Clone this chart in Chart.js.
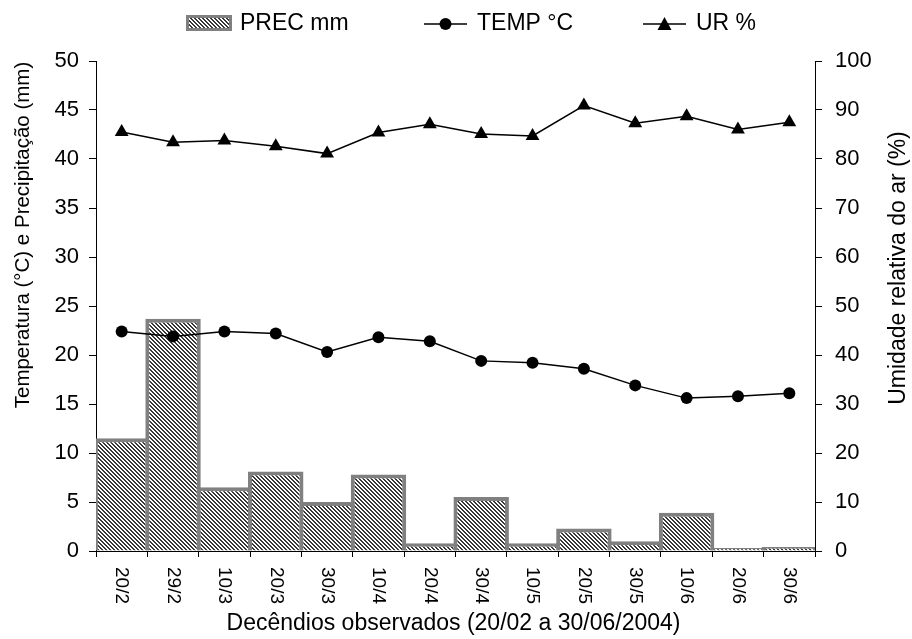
<!DOCTYPE html>
<html>
<head>
<meta charset="utf-8">
<script src="https://cdn.jsdelivr.net/npm/chart.js@4.4.1/dist/chart.umd.min.js"></script>
<style>
  html, body { margin: 0; padding: 0; background: #fff; }
  #wrap { width: 912px; height: 639px; position: relative; }
</style>
</head>
<body>
<div id="wrap"><canvas id="chart" width="912" height="639"></canvas></div>
<script>
'use strict';

// Decêndios (categories)
const decendios = ['20/2', '29/2', '10/3', '20/3', '30/3', '10/4', '20/4',
                   '30/4', '10/5', '20/5', '30/5', '10/6', '20/6', '30/6'];

// Precipitação (mm) – left axis
const precMm = [11.5, 23.7, 6.5, 8.1, 5.0, 7.8, 0.8, 5.5, 0.8, 2.3, 1.0, 3.9, 0.3, 0.4];

// Temperatura (°C) – left axis
const tempC = [22.4, 21.9, 22.4, 22.2, 20.3, 21.8, 21.4, 19.4, 19.2, 18.6, 16.9, 15.6, 15.8, 16.1];

// Umidade relativa (%) – right axis
const urPct = [85.5, 83.4, 83.8, 82.6, 81.1, 85.4, 87.1, 85.1, 84.7, 90.9, 87.3, 88.7, 86.0, 87.5];

const legendLabels = ['PREC mm', 'TEMP °C', 'UR %'];
const xTitle = 'Decêndios observados (20/02 a 30/06/2004)';
const yLeftTitle = 'Temperatura (°C) e Precipitação (mm)';
const yRightTitle = 'Umidade relativa do ar (%)';

const FONT = '"Liberation Sans", Arial, sans-serif';

// diagonal hatch used for the precipitation bars
function makeHatch(ctx) {
  const c = document.createElement('canvas');
  c.width = 4;
  c.height = 4;
  const p = c.getContext('2d');
  p.fillStyle = '#ffffff';
  p.fillRect(0, 0, 4, 4);
  p.fillStyle = '#383838';
  for (let i = 0; i < 4; i++) {
    p.fillRect(i, i, 1, 1);
    p.fillRect((i + 1) % 4, i, 1, 1);
  }
  return ctx.createPattern(c, 'repeat');
}

const canvas = document.getElementById('chart');
const ctx = canvas.getContext('2d');
const hatch = makeHatch(ctx);

// rotated x labels, axis titles and the legend (Excel style)
const extrasPlugin = {
  id: 'extras',
  afterDraw(chart) {
    const c = chart.ctx;
    const xs = chart.scales.x;
    c.save();
    c.fillStyle = '#000';

    // category labels, rotated clockwise
    c.font = '19px ' + FONT;
    c.textAlign = 'left';
    c.textBaseline = 'middle';
    decendios.forEach((lab, i) => {
      const px = xs.getPixelForValue(i);
      c.save();
      c.translate(px, xs.top + 16);
      c.rotate(Math.PI / 2);
      c.fillText(lab, 0, 0);
      c.restore();
    });

    // x title
    c.font = '23px ' + FONT;
    c.textAlign = 'center';
    c.fillText(xTitle, (chart.chartArea.left + chart.chartArea.right) / 2 - 2, 624);

    // y titles (both read bottom-to-top)
    c.save();
    c.font = '20.5px ' + FONT;
    c.translate(23, 235);
    c.rotate(-Math.PI / 2);
    c.fillText(yLeftTitle, 0, 0);
    c.restore();
    c.save();
    c.translate(899, 268);
    c.rotate(-Math.PI / 2);
    c.fillText(yRightTitle, 0, 0);
    c.restore();

    // legend
    c.textAlign = 'left';
    const ly = 24;
    c.fillStyle = hatch;
    c.fillRect(186, 15, 46, 16);
    c.strokeStyle = '#808080';
    c.lineWidth = 3;
    c.strokeRect(187.5, 16.5, 43, 13);
    c.fillStyle = '#000';
    c.fillText(legendLabels[0], 240, ly);

    c.strokeStyle = '#000';
    c.lineWidth = 1.5;
    c.beginPath();
    c.moveTo(424, ly); c.lineTo(467, ly);
    c.moveTo(643, ly); c.lineTo(686, ly);
    c.stroke();
    c.beginPath();
    c.arc(445.5, ly, 6, 0, Math.PI * 2);
    c.fill();
    c.beginPath();
    c.moveTo(664.5, ly - 7);
    c.lineTo(671.5, ly + 6);
    c.lineTo(657.5, ly + 6);
    c.closePath();
    c.fill();
    c.fillText(legendLabels[1], 477, ly);
    c.fillText(legendLabels[2], 696, ly);

    c.restore();
  }
};

new Chart(ctx, {
  type: 'bar',
  data: {
    labels: decendios,
    datasets: [
      {
        label: legendLabels[1],
        type: 'line',
        data: tempC,
        yAxisID: 'y',
        borderColor: '#000',
        backgroundColor: '#000',
        borderWidth: 1.5,
        pointStyle: 'circle',
        pointRadius: 6,
        pointBorderWidth: 0,
        tension: 0,
        order: 1
      },
      {
        label: legendLabels[2],
        type: 'line',
        data: urPct,
        yAxisID: 'y1',
        borderColor: '#000',
        backgroundColor: '#000',
        borderWidth: 1.5,
        pointStyle: 'triangle',
        pointRadius: 8,
        pointBorderWidth: 0,
        tension: 0,
        order: 1
      },
      {
        label: legendLabels[0],
        data: precMm,
        yAxisID: 'y',
        backgroundColor: hatch,
        borderColor: '#808080',
        borderWidth: 4,
        borderSkipped: 'start',
        barPercentage: 1.08,
        categoryPercentage: 1,
        order: 2
      }
    ]
  },
  options: {
    responsive: false,
    animation: false,
    layout: { padding: { top: 61, left: 0, right: 0, bottom: 0 } },
    plugins: {
      legend: { display: false },
      tooltip: { enabled: false },
      title: { display: false }
    },
    scales: {
      x: {
        offset: true,
        grid: {
          offset: true,
          drawOnChartArea: false,
          drawTicks: true,
          tickLength: 6,
          color: '#000'
        },
        border: { display: true, color: '#000', width: 1 },
        ticks: { display: false },
        afterFit(scale) { scale.height = 88; }
      },
      y: {
        position: 'left',
        min: 0,
        max: 50,
        ticks: {
          stepSize: 5,
          color: '#000',
          padding: 10,
          font: { family: FONT, size: 22 }
        },
        grid: { drawOnChartArea: false, tickLength: 7, color: '#000' },
        border: { display: true, color: '#000', width: 1 },
        afterFit(scale) { scale.width = 96; }
      },
      y1: {
        position: 'right',
        min: 0,
        max: 100,
        ticks: {
          stepSize: 10,
          color: '#000',
          padding: 13,
          font: { family: FONT, size: 22 }
        },
        grid: { drawOnChartArea: false, tickLength: 7, color: '#000' },
        border: { display: true, color: '#000', width: 1 },
        afterFit(scale) { scale.width = 97; }
      }
    }
  },
  plugins: [extrasPlugin]
});
</script>
</body>
</html>
